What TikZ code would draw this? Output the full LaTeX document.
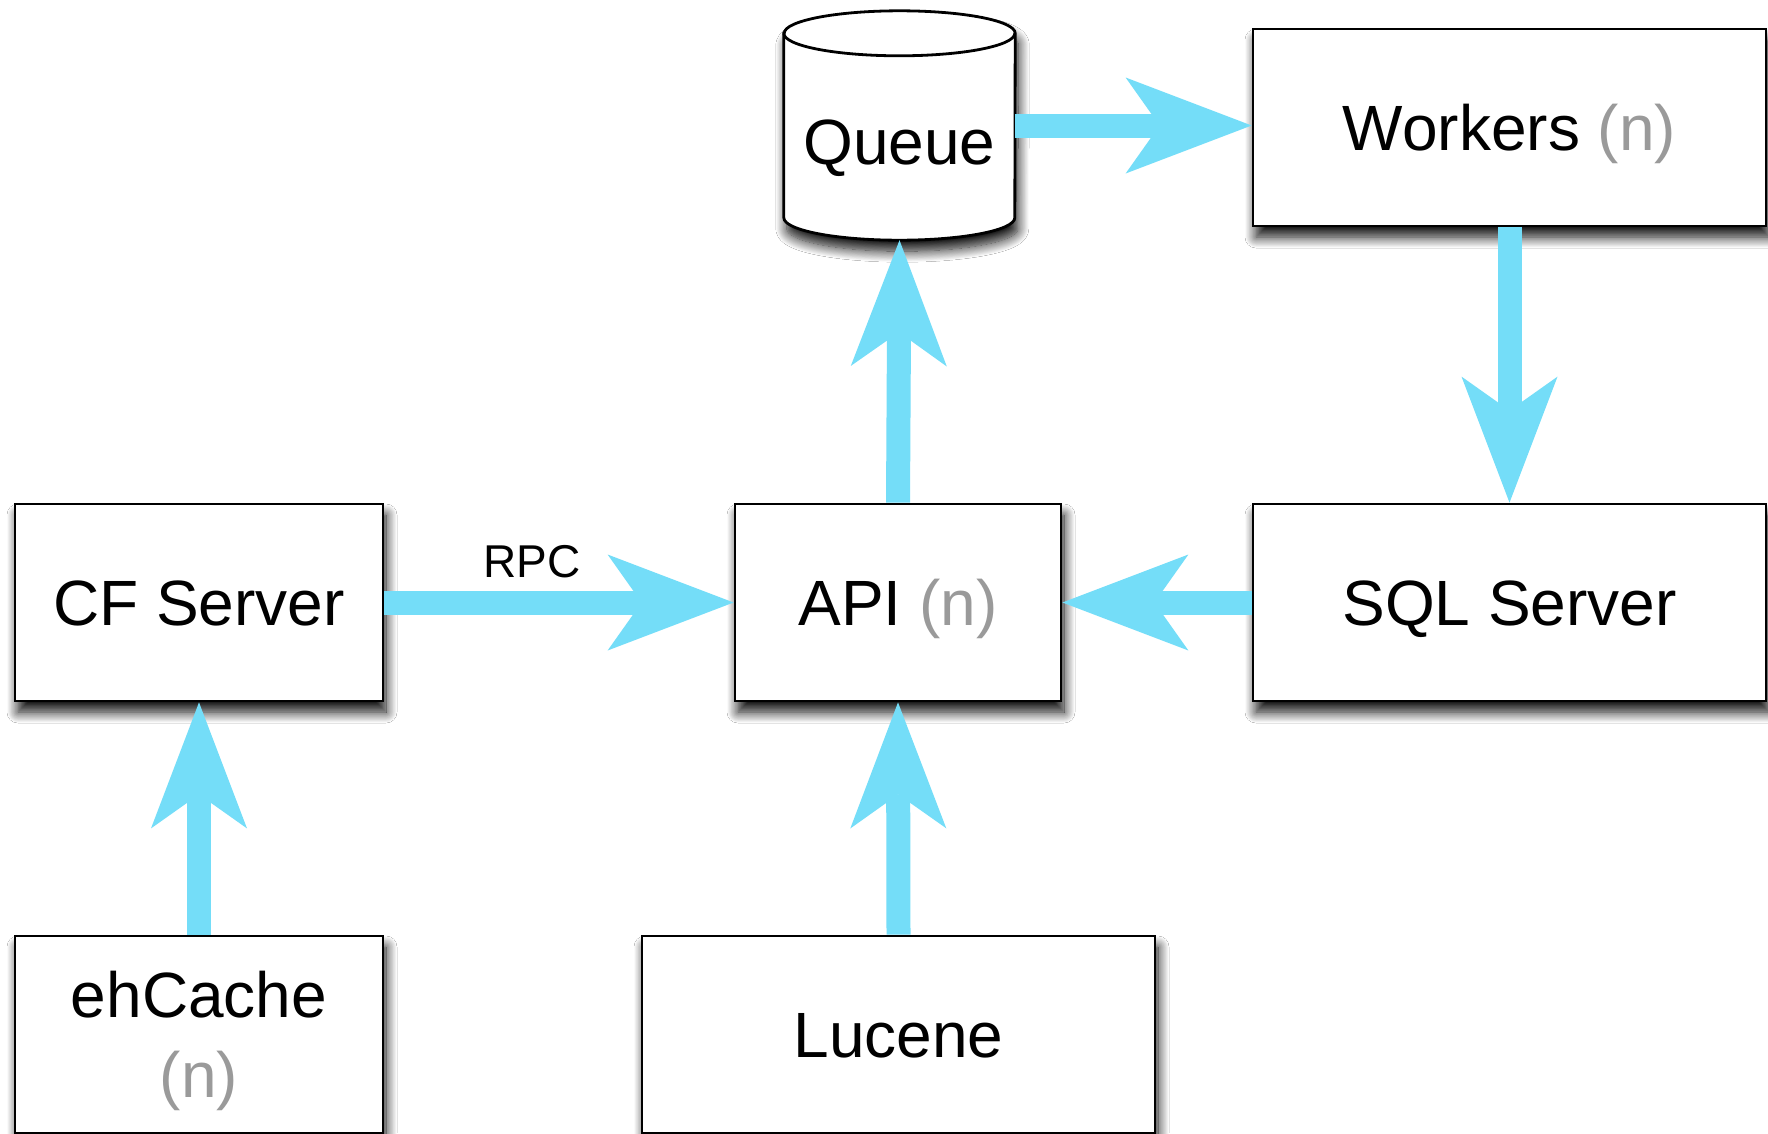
\documentclass[tikz,border=0pt]{standalone}
\usepackage{fontspec}
\setmainfont{Liberation Sans}
\usetikzlibrary{arrows.meta,shadows.blur,calc}
\definecolor{arrowblue}{HTML}{74DDF8}
\definecolor{ngray}{HTML}{9A9A9A}
\begin{document}
\begin{tikzpicture}[x=1pt,y=1pt,
  shade/.style={blur shadow={shadow xshift=3pt, shadow yshift=-11pt, shadow blur radius=11pt, shadow blur steps=14, shadow opacity=95}},
  box/.style={draw=black, line width=2.8pt, fill=white, rectangle, inner sep=0pt,
    font=\fontsize{64}{80}\selectfont, align=center, text height=46pt, text depth=0pt, shade},
  flow/.style={draw=arrowblue, line width=24pt,
    -{Stealth[length=126pt,width=96pt,inset=34pt,line width=0pt,fill=arrowblue,color=arrowblue]}},
  rpc/.style={font=\fontsize{46}{55}\selectfont, inner sep=0pt, text height=33pt, text depth=0pt}
]
\fill[white] (0,0) rectangle (1768,-1133);
\clip (0,0) rectangle (1768,-1133);

% nodes
\node[box, minimum width=513, minimum height=197] (workers) at (1509.5,-127.5) {Workers \textcolor{ngray}{(n)}};
\node[box, minimum width=513, minimum height=197] (sql) at (1509.5,-602.5) {SQL Server};
\node[box, minimum width=326, minimum height=197] (api) at (898,-602.5) {API \textcolor{ngray}{(n)}};
\node[box, minimum width=368, minimum height=197] (cf) at (199,-602.5) {CF Server};
\node[box, minimum width=368, minimum height=197, text height=126pt, text depth=0pt] (ehcache) at (199,-1034.5) {ehCache\\\textcolor{ngray}{(n)}};
\node[box, minimum width=513, minimum height=197] (lucene) at (898.5,-1034.5) {Lucene};

% queue cylinder
\node[rectangle, inner sep=0pt, minimum width=231, minimum height=229] (queue) at (899.5,-125.5) {};
\draw[line width=2.8pt, fill=white, shade]
  ($(queue.north west)+(0,-22.5)$) -- ($(queue.south west)+(0,22.5)$)
  arc[start angle=180, end angle=360, x radius=115.5, y radius=22.5]
  -- ($(queue.north east)+(0,-22.5)$)
  arc[start angle=0, end angle=180, x radius=115.5, y radius=22.5] -- cycle;
\draw[line width=2.8pt] ($(queue.north west)+(0,-22.5)$)
  arc[start angle=180, end angle=360, x radius=115.5, y radius=22.5];
\node[font=\fontsize{64}{80}\selectfont, inner sep=0pt, text height=46pt, text depth=0pt] (queuetext) at (899.5,-141) {Queue};

% connectors
\draw[flow] (queue.east) -- (queue.east -| workers.west);
\draw[flow] (workers.south) -- (sql.north);
\draw[flow] (sql.west) -- (api.east);
\draw[flow] (api.north) -- (queue.south);
\draw[flow] (cf.east) -- (api.west) node[rpc, pos=0.423, yshift=42pt] (rpclabel) {RPC};
\draw[flow] (ehcache.north) -- (cf.south);
\draw[flow] (lucene.north) -- (api.south);
\end{tikzpicture}
\end{document}
